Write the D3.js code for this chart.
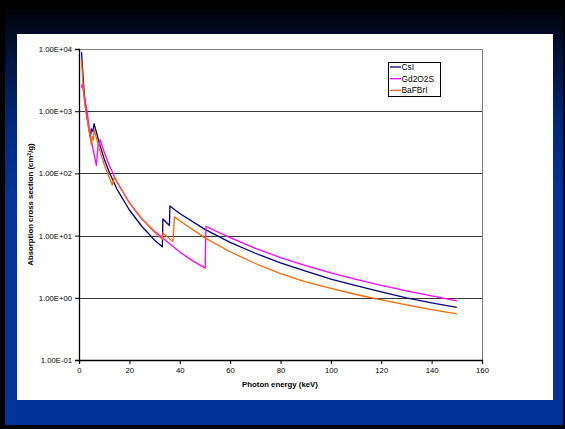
<!DOCTYPE html>
<html>
<head>
<meta charset="utf-8">
<script src="https://cdn.jsdelivr.net/npm/d3@7"></script>
<style>
  html, body { margin: 0; padding: 0; background: #000; }
  svg { display: block; }
  text { font-family: Arial, "Liberation Sans", sans-serif; }
</style>
</head>
<body>
<svg id="chart" width="565" height="429"></svg>
<script>
// Photon energy (keV) and absorption cross section (cm2/g)
var csiEnergy = [1.0, 2.0, 2.8, 4.5, 4.9, 5.5, 6.0, 8, 10, 12, 15, 20, 25, 30, 33.1,
  33.3, 35.9, 36.1, 40, 50, 60, 70, 80, 90, 100, 110, 120, 130, 140, 150];
var csiValue = [8900, 2100, 1000, 380, 520, 470, 630, 314, 171, 104, 56.5, 25.8, 14.0, 8.45, 6.6,
  18.5, 14.5, 30, 22.7, 12.6, 7.8, 5.2, 3.65, 2.68, 2.0, 1.57, 1.25, 1.0, 0.83, 0.70];

var gdEnergy = [1.0, 1.25, 3.2, 4.4, 6.9, 7.6, 7.9, 8.4, 10, 12, 15, 20, 25, 30, 40, 45, 50.1,
  50.4, 60, 70, 80, 90, 100, 110, 120, 130, 140, 150];
var gdValue = [2400, 2700, 1000, 420, 135, 290, 275, 350, 220, 135, 74, 34, 18.5, 11.7, 5.45, 3.96, 3.0,
  14, 9.25, 6.25, 4.44, 3.29, 2.51, 1.97, 1.58, 1.29, 1.07, 0.895];

var bfEnergy = [1.0, 2.0, 2.7, 4.9, 5.3, 5.7, 6.0, 8, 10, 12, 13.2, 14.0, 15, 20, 25, 30, 33.1,
  33.3, 37.3, 37.9, 40, 50, 60, 70, 80, 90, 100, 110, 120, 130, 140, 150];
var bfValue = [6600, 1600, 1000, 290, 390, 350, 510, 250, 139, 86, 65, 88, 73, 33.7, 18.5, 11.3, 8.7,
  11, 8.0, 20, 17.3, 9.2, 5.5, 3.56, 2.45, 1.81, 1.42, 1.13, 0.925, 0.77, 0.645, 0.55];

var seriesNames = ['CsI', 'Gd2O2S', 'BaFBrI'];
var seriesColors = ['#000080', '#ff00ff', '#ff6600'];

var xTicks = [0, 20, 40, 60, 80, 100, 120, 140, 160];
var yTicks = [0.1, 1, 10, 100, 1000, 10000];
var yTickLabels = ['1.00E-01', '1.00E+00', '1.00E+01', '1.00E+02', '1.00E+03', '1.00E+04'];

(function() {
  var series = [
    { name: seriesNames[0], color: seriesColors[0], pts: d3.zip(csiEnergy, csiValue) },
    { name: seriesNames[1], color: seriesColors[1], pts: d3.zip(gdEnergy, gdValue) },
    { name: seriesNames[2], color: seriesColors[2], pts: d3.zip(bfEnergy, bfValue) }
  ];

  var svg = d3.select('#chart');

  // slide background: black frame, blue body with dark top
  var grad = svg.append('defs').append('linearGradient')
    .attr('id', 'bg')
    .attr('x1', 0).attr('y1', 0).attr('x2', 0).attr('y2', 1);
  grad.append('stop').attr('offset', '0').attr('stop-color', '#000000');
  grad.append('stop').attr('offset', '0.08').attr('stop-color', '#000d2a');
  grad.append('stop').attr('offset', '0.3').attr('stop-color', '#002a80');
  grad.append('stop').attr('offset', '0.45').attr('stop-color', '#003399');
  grad.append('stop').attr('offset', '1').attr('stop-color', '#003399');

  svg.append('rect')
    .attr('x', 0).attr('y', 0).attr('width', 565).attr('height', 429)
    .attr('fill', '#000');
  svg.append('rect')
    .attr('x', 5).attr('y', 5).attr('width', 558).attr('height', 420)
    .attr('fill', 'url(#bg)');
  svg.append('rect')
    .attr('x', 17).attr('y', 34).attr('width', 536).attr('height', 366)
    .attr('fill', '#fff');

  var pLeft = 79, pRight = 482, pTop = 49, pBottom = 360;

  var x = d3.scaleLinear().domain([0, 160]).range([pLeft, pRight]);
  var y = d3.scaleLog().domain([0.1, 10000]).range([pBottom, pTop]);

  // gridlines
  svg.append('g')
    .selectAll('line')
    .data(yTicks.slice(1, -1))
    .enter()
    .append('line')
    .attr('x1', pLeft).attr('x2', pRight)
    .attr('y1', function(d) { return Math.round(y(d)) + 0.5; })
    .attr('y2', function(d) { return Math.round(y(d)) + 0.5; })
    .attr('stroke', '#3a3a3a')
    .attr('stroke-width', 1);

  // plot frame top/right
  svg.append('path')
    .attr('d', 'M' + pLeft + ',' + (pTop + 0.5) + 'H' + (pRight + 0.5) + 'V' + pBottom)
    .attr('fill', 'none')
    .attr('stroke', '#808080')
    .attr('stroke-width', 1);

  // axes
  var xAxis = d3.axisBottom(x)
    .tickValues(xTicks)
    .tickSize(4)
    .tickPadding(4)
    .tickFormat(d3.format('d'));
  var gx = svg.append('g')
    .attr('transform', 'translate(0,' + pBottom + ')')
    .call(xAxis);

  var yAxis = d3.axisLeft(y)
    .tickValues(yTicks)
    .tickSize(4)
    .tickPadding(3)
    .tickFormat(function(d, i) { return yTickLabels[i]; });
  var gy = svg.append('g')
    .attr('transform', 'translate(' + pLeft + ',0)')
    .call(yAxis);

  [gx, gy].forEach(function(g) {
    g.select('.domain').attr('stroke', '#000').attr('stroke-width', 1.3);
    g.selectAll('.tick line').attr('stroke', '#000');
    g.selectAll('.tick text')
      .attr('fill', '#000')
      .style('font-size', '7.7px')
      .style('font-family', 'Arial, "Liberation Sans", sans-serif');
  });

  // series lines
  var line = d3.line()
    .x(function(d) { return x(d[0]); })
    .y(function(d) { return y(d[1]); });

  svg.append('g')
    .selectAll('path')
    .data(series)
    .enter()
    .append('path')
    .attr('d', function(d) { return line(d.pts); })
    .attr('fill', 'none')
    .attr('stroke', function(d) { return d.color; })
    .attr('stroke-width', 1.3)
    .attr('stroke-linejoin', 'round');

  // axis titles
  svg.append('text')
    .attr('x', 280)
    .attr('y', 387)
    .attr('text-anchor', 'middle')
    .style('font-size', '7.8px')
    .style('font-weight', 'bold')
    .text('Photon energy (keV)');

  var yt = svg.append('text')
    .attr('transform', 'translate(33,' + ((pTop + pBottom) / 2) + ') rotate(-90)')
    .attr('text-anchor', 'middle')
    .style('font-size', '7.8px')
    .style('font-weight', 'bold');
  yt.append('tspan').text('Absorption cross section (cm');
  yt.append('tspan').attr('dy', -2.5).style('font-size', '5px').text('2');
  yt.append('tspan').attr('dy', 2.5).text('/g)');

  // legend
  var legend = svg.append('g').attr('transform', 'translate(388,62)');
  legend.append('rect')
    .attr('x', 0.5).attr('y', 0.5).attr('width', 52).attr('height', 34)
    .attr('fill', '#fff')
    .attr('stroke', '#000')
    .attr('stroke-width', 1);

  var item = legend.selectAll('g.item')
    .data(series)
    .enter()
    .append('g')
    .attr('class', 'item')
    .attr('transform', function(d, i) { return 'translate(0,' + (5 + i * 11.7) + ')'; });
  item.append('line')
    .attr('x1', 2).attr('x2', 13)
    .attr('stroke', function(d) { return d.color; })
    .attr('stroke-width', 1.3);
  item.append('text')
    .attr('x', 13.5)
    .attr('y', 3)
    .style('font-size', '8.4px')
    .text(function(d) { return d.name; });
})();
</script>
</body>
</html>
